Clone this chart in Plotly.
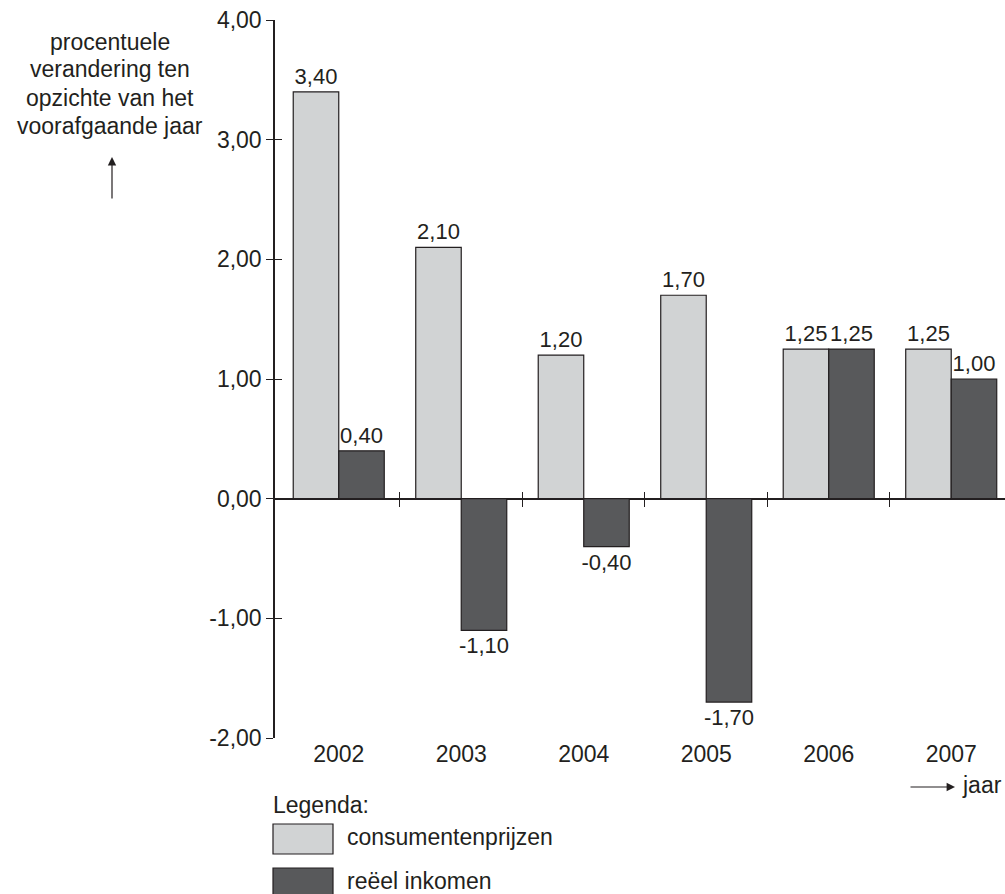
import plotly.graph_objects as go

# ---- data ----
years = [2002, 2003, 2004, 2005, 2006, 2007]
consumentenprijzen = [3.40, 2.10, 1.20, 1.70, 1.25, 1.25]
reeel_inkomen = [0.40, -1.10, -0.40, -1.70, 1.25, 1.00]
y_ticks = [-2, -1, 0, 1, 2, 3, 4]
y_ticktext = [f"{v:.2f}".replace(".", ",") for v in y_ticks]
boundary_ticks = [2002.5, 2003.5, 2004.5, 2005.5, 2006.5]
title_lines = ["procentuele", "verandering ten", "opzichte van het", "voorafgaande jaar"]

# ---- style ----
LIGHT = "#d1d3d4"
DARK = "#58595b"
INK = "#231f20"
FONT = "Liberation Sans, Arial, sans-serif"
FS = 23
FS_BAR = 22
W, H = 1005, 894
PL, PR, PT, PB = 275, 1005, 20, 738


def px_x(px):
    return (px - PL) / (PR - PL)


def px_y(py):
    return (PB - py) / (PB - PT)


fig = go.Figure()
for name, vals, col in [("consumentenprijzen", consumentenprijzen, LIGHT),
                        ("reeel inkomen", reeel_inkomen, DARK)]:
    fig.add_trace(go.Bar(
        x=years, y=vals, name=name,
        marker=dict(color=col, line=dict(color=INK, width=1.2)),
        texttemplate="%{y:.2f}", textposition="outside",
        textfont=dict(family=FONT, size=FS_BAR, color=INK),
        constraintext="none", cliponaxis=False, showlegend=False,
    ))

# empty helper traces so that the overlay axes (crossing ticks) are drawn
for xa, ya in [("x2", "y"), ("x3", "y"), ("x", "y2")]:
    fig.add_trace(go.Scatter(x=[], y=[], xaxis=xa, yaxis=ya, showlegend=False, hoverinfo="skip"))

xr = [2001.4796, 2007.439]
yr = [-2, 4]

fig.update_layout(
    width=W, height=H,
    margin=dict(l=PL, r=W - PR, t=PT, b=H - PB, pad=0),
    paper_bgcolor="white", plot_bgcolor="white",
    separators=",.",
    barmode="group", bargap=0.257, bargroupgap=0,
    font=dict(family=FONT, size=FS, color=INK),
    xaxis=dict(range=xr, showgrid=False, zeroline=False, showline=False,
               ticks="", tickvals=years, ticktext=[str(y) for y in years],
               tickfont=dict(size=FS), ticklabelstandoff=0),
    xaxis2=dict(range=xr, overlaying="x", anchor="free", position=1 / 3,
                showgrid=False, zeroline=False, showline=False, showticklabels=False,
                ticks="outside", ticklen=7, tickwidth=1.3, tickcolor=INK,
                tickvals=boundary_ticks),
    xaxis3=dict(range=xr, overlaying="x", anchor="free", position=1 / 3,
                showgrid=False, zeroline=False, showline=False, showticklabels=False,
                ticks="inside", ticklen=7, tickwidth=1.3, tickcolor=INK,
                tickvals=boundary_ticks),
    yaxis=dict(range=yr, showgrid=False, zeroline=True, zerolinecolor=INK, zerolinewidth=1.5,
               showline=True, linecolor=INK, linewidth=1.5,
               ticks="outside", ticklen=7, tickwidth=1.3, tickcolor=INK,
               tickvals=y_ticks, ticktext=y_ticktext, tickfont=dict(size=FS),
               ticklabelstandoff=0),
    yaxis2=dict(range=yr, overlaying="y", anchor="x", showgrid=False, zeroline=False,
                showline=False, showticklabels=False,
                ticks="inside", ticklen=7, tickwidth=1.3, tickcolor=INK,
                tickvals=y_ticks),
)

annotations = []
line_mid = [42, 69.5, 97.5, 125.5]
for txt, ym in zip(title_lines, line_mid):
    annotations.append(dict(text=txt, x=px_x(110), y=px_y(ym), xref="paper", yref="paper",
                            xanchor="center", yanchor="middle", showarrow=False,
                            font=dict(size=FS)))
# vertical arrow under y title
annotations.append(dict(text="", x=px_x(112), y=px_y(157), xref="paper", yref="paper",
                        showarrow=True, ax=0, ay=43, arrowhead=2, arrowsize=1.4,
                        arrowwidth=1.2, arrowcolor=INK, standoff=0))
# x direction arrow + 'jaar'
annotations.append(dict(text="", x=px_x(955), y=px_y(787), xref="paper", yref="paper",
                        showarrow=True, ax=-46, ay=0, arrowhead=2, arrowsize=1.4,
                        arrowwidth=1.2, arrowcolor=INK, standoff=0))
annotations.append(dict(text="jaar", x=px_x(960), y=px_y(785), xref="paper", yref="paper",
                        xanchor="left", yanchor="middle", showarrow=False, font=dict(size=FS)))
# legend
annotations.append(dict(text="Legenda:", x=px_x(271), y=px_y(805), xref="paper", yref="paper",
                        xanchor="left", yanchor="middle", showarrow=False, font=dict(size=FS)))
legend_items = [("consumentenprijzen", LIGHT, 824), ("reëel inkomen", DARK, 868)]
shapes = []
for label, col, top in legend_items:
    shapes.append(dict(type="rect", xref="paper", yref="paper",
                       x0=px_x(273), x1=px_x(333), y0=px_y(top), y1=px_y(top + 30),
                       fillcolor=col, line=dict(color=INK, width=1.2)))
    annotations.append(dict(text=label, x=px_x(345), y=px_y(top + 13), xref="paper", yref="paper",
                            xanchor="left", yanchor="middle", showarrow=False, font=dict(size=FS)))

fig.update_layout(annotations=annotations, shapes=shapes)

fig.write_html("out.html", config={"displayModeBar": False},
               post_script="document.body.style.margin='0';document.body.style.overflow='hidden';")
